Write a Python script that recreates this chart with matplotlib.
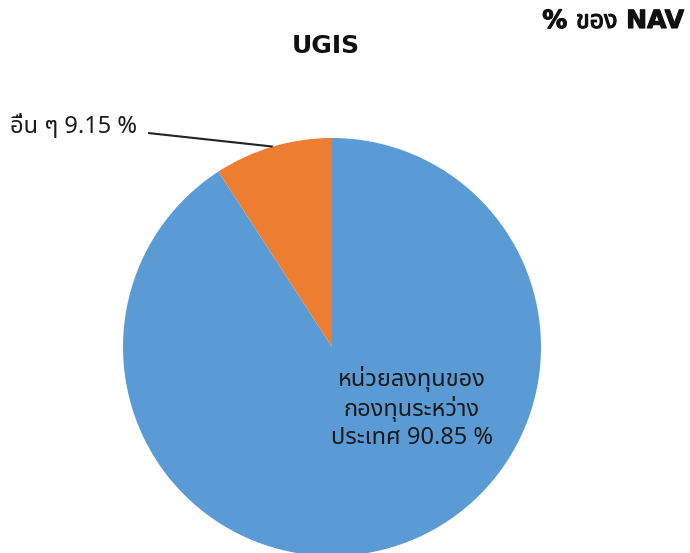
import numpy as np
import matplotlib
matplotlib.use("Agg")
import matplotlib.pyplot as plt
from matplotlib import font_manager
from matplotlib.ft2font import FT2Font
import matplotlib.patheffects as pe

categories = ["หน่วยลงทุนของ\nกองทุนระหว่าง\nประเทศ", "อื่น ๆ"]
values = [90.85, 9.15]
colors = ["#5B9BD5", "#ED7D31"]
title = "UGIS"
corner_label = "% ของ NAV"

# find a font with Thai glyphs
thai_family = None
preferred = ["Tahoma", "Noto Sans Thai", "Noto Sans Thai UI", "Loma", "Garuda", "Sarabun", "Kinnari", "Waree"]
cands = []
for f in font_manager.fontManager.ttflist:
    try:
        ft = FT2Font(f.fname)
        if ft.get_char_index(ord("ก")) and ft.get_char_index(ord("9")):
            cands.append(f.name)
    except Exception:
        pass
for p in preferred:
    if p in cands:
        thai_family = p
        break
if thai_family is None and cands:
    thai_family = sorted(set(cands))[0]
fam = [thai_family, "DejaVu Sans"] if thai_family else ["DejaVu Sans"]
plt.rcParams["font.family"] = fam

W, H = 690, 553
fig = plt.figure(figsize=(W / 100, H / 100), dpi=100)
ax = fig.add_axes([0, 0, 1, 1])
cx, cy, r = 332, H - 347, 209
wedges, _ = ax.pie(values, colors=colors, startangle=90, counterclock=False,
                   center=(cx, cy), radius=r,
                   wedgeprops=dict(edgecolor="none", linewidth=0))
ax.set_xlim(0, W)
ax.set_ylim(0, H)
ax.axis("off")

txtcol = "#1a1a1a"

# labels
ax.text(412, H - 408, f"{categories[0]} {values[0]:.2f} %", ha="center", va="center",
        fontsize=17, linespacing=1.2, color=txtcol)
w = wedges[1]
ang = np.deg2rad((w.theta1 + w.theta2) / 2)
ex, ey = cx + r * np.cos(ang), cy + r * np.sin(ang)
ax.plot([148, ex], [H - 133, ey], color="#222222", lw=1.5, solid_capstyle="butt")
ax.text(10, H - 127, f"{categories[1]} {values[1]:.2f} %", ha="left", va="center",
        fontsize=17, color=txtcol)

fig.text(326 / W, 1 - 46 / H, title, ha="center", va="center", fontsize=18,
         fontweight="bold", family="DejaVu Sans", color="#111111")
fig.text(684 / W, 1 - 21 / H, corner_label, ha="right", va="center", fontsize=18,
         fontweight="bold", color="#111111",
         family=["DejaVu Sans", thai_family] if thai_family else ["DejaVu Sans"],
         path_effects=[pe.withStroke(linewidth=0.8, foreground="#111111")])

fig.savefig("out.png", dpi=100)
